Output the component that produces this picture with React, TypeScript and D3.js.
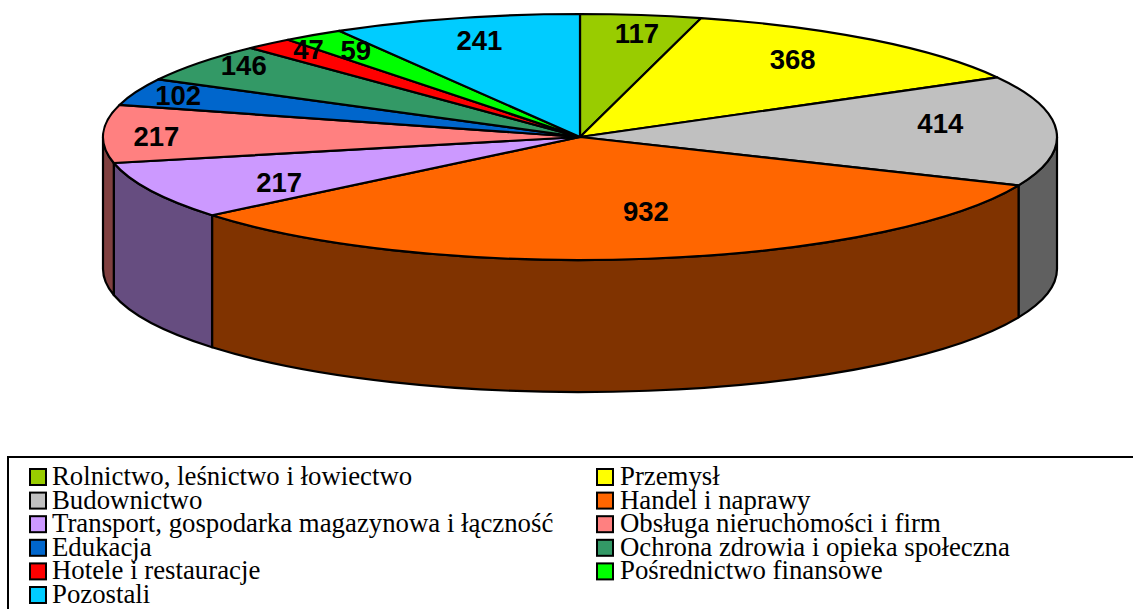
import React from "react";
import * as d3 from "d3";

const categories = ["Rolnictwo, leśnictwo i łowiectwo","Przemysł","Budownictwo","Handel i naprawy","Transport, gospodarka magazynowa i łączność","Obsługa nieruchomości i firm","Edukacja","Ochrona zdrowia i opieka społeczna","Hotele i restauracje","Pośrednictwo finansowe","Pozostali"];
const values = [117,368,414,932,217,217,102,146,47,59,241];
const colors = ["#99CC00","#FFFF00","#C0C0C0","#FF6600","#CC99FF","#FF8080","#0066CC","#339966","#FF0000","#00FF00","#00CCFF"];
const sideColors = ["#4D6600","#808000","#606060","#803300","#664D80","#804040","#003366","#1A4D33","#800000","#008000","#006680"];
const labelShift: [number, number][] = [[11,-12],[-7,-5],[3,-9],[15,-17],[21,5],[-66,2],[-69,-8],[-51,-16],[-38,-18],[-24,-10],[-7,-7]];

const W = 1133, H = 609;
const cx = 580, cy = 137, rx = 477, ry = 123, depth = 132;
const x = d3.scaleLinear().domain([-1, 1]).range([cx - rx, cx + rx]);
const y = d3.scaleLinear().domain([-1, 1]).range([cy - ry, cy + ry]);
const px = (a: number, r = 1) => x(r * Math.sin(a));
const py = (a: number, r = 1) => y(-r * Math.cos(a));

const arcs = d3.pie<number>().sort(null).value((d) => d)(values);

function slicePath(a0: number, a1: number) {
  const large = a1 - a0 > Math.PI ? 1 : 0;
  return `M${cx},${cy}L${px(a0)},${py(a0)}A${rx},${ry} 0 ${large} 1 ${px(a1)},${py(a1)}Z`;
}
function sidePath(a0: number, a1: number) {
  const s = Math.max(a0, Math.PI / 2), e = Math.min(a1, (3 * Math.PI) / 2);
  if (e <= s) return null;
  return `M${px(s)},${py(s)}A${rx},${ry} 0 0 1 ${px(e)},${py(e)}L${px(e)},${py(e) + depth}A${rx},${ry} 0 0 0 ${px(s)},${py(s) + depth}Z`;
}

export default function App() {
  const legendY = d3.scalePoint<number>().domain(d3.range(6)).range([477, 595]);
  return (
    <svg width={W} height={H} style={{ position: "absolute", left: 0, top: 0, background: "#fff" }}>
      {arcs.map((d, i) => {
        const p = sidePath(d.startAngle, d.endAngle);
        return p && <path key={i} d={p} fill={sideColors[i]} stroke="#000" strokeWidth={2.2} strokeLinejoin="round" />;
      })}
      {arcs.map((d, i) => (
        <path key={i} d={slicePath(d.startAngle, d.endAngle)} fill={colors[i]} stroke="#000" strokeWidth={2.2} strokeLinejoin="round" />
      ))}
      {arcs.map((d, i) => {
        const m = (d.startAngle + d.endAngle) / 2;
        return (
          <text key={i} x={px(m, 0.75) + labelShift[i][0]} y={py(m, 0.75) + labelShift[i][1]} textAnchor="middle" dominantBaseline="central"
            fontFamily="Liberation Sans" fontWeight="bold" fontSize={27.5} fill="#000">{values[i]}</text>
        );
      })}
      <rect x={8} y={457} width={W + 20} height={H} fill="#fff" stroke="#000" strokeWidth={2} />
      {categories.map((c, i) => {
        const col = i % 2, row = Math.floor(i / 2);
        const yy = legendY(row)!;
        const sx = col ? 597 : 30;
        return (
          <g key={i}>
            <rect x={sx} y={yy - 8} width={16} height={16} fill={colors[i]} stroke="#000" strokeWidth={2} />
            <text x={col ? 620 : 52} y={yy + 8} fontFamily="Liberation Serif" fontSize={26.8} fill="#000">{c}</text>
          </g>
        );
      })}
    </svg>
  );
}
